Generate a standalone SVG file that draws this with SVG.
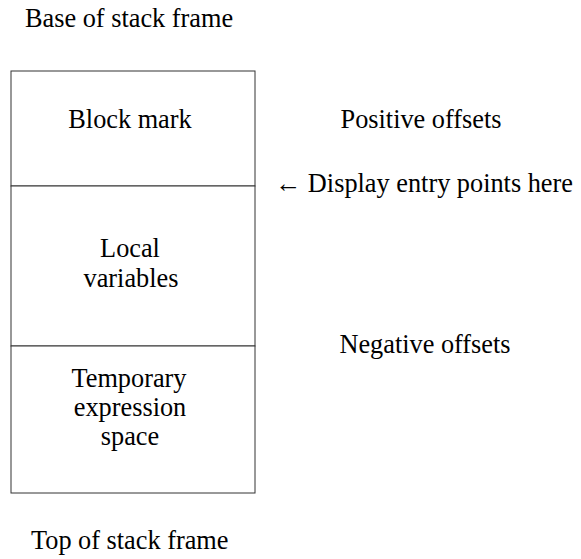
<svg xmlns="http://www.w3.org/2000/svg" width="581" height="559" viewBox="0 0 581 559">
<style>
text{font-family:"Liberation Serif","Times New Roman",serif;font-size:26.3px;fill:#000}
.c{text-anchor:middle}
.box{fill:#fff;stroke:#333;stroke-width:1}
</style>
<rect width="581" height="559" fill="#fff"/>
<g id="base-label"><text x="25" y="27">Base of stack frame</text></g>
<g id="block-mark"><rect class="box" x="11" y="71" width="244" height="115"/><text class="c" x="130" y="128">Block mark</text></g>
<g id="local-variables"><rect class="box" x="11" y="186" width="244" height="160"/><text class="c" x="130" y="257">Local</text><text class="c" x="131" y="287">variables</text></g>
<g id="temp-space"><rect class="box" x="11" y="346" width="244" height="147"/><text class="c" x="129" y="387">Temporary</text><text class="c" x="130" y="416">expression</text><text class="c" x="130" y="445">space</text></g>
<g id="positive"><text class="c" x="421" y="128">Positive offsets</text></g>
<g id="display"><text x="275" y="192">← Display entry points here</text></g>
<g id="negative"><text class="c" x="425" y="353">Negative offsets</text></g>
<g id="top-label"><text x="31" y="549">Top of stack frame</text></g>
<g id="connectors"></g>
</svg>
